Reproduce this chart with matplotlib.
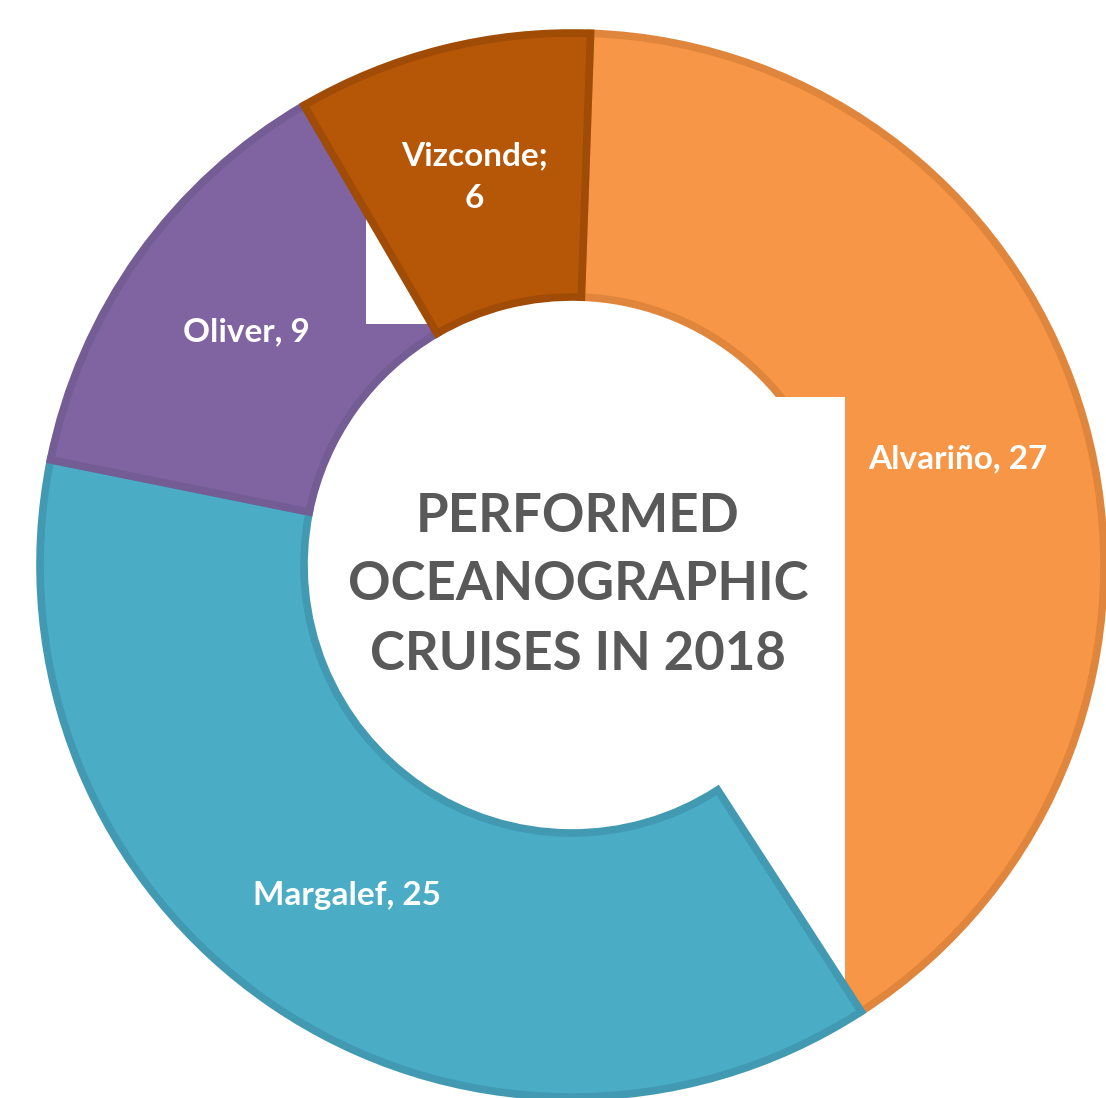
import matplotlib.pyplot as plt
from matplotlib.patches import Rectangle

# cruise counts per vessel
vessels = ['Alvariño', 'Margalef', 'Oliver', 'Vizconde']
cruises = [27, 25, 9, 6]
separators = [', ', ', ', ', ', ';\n']
colors = ['#F79646', '#4BACC6', '#8064A2', '#B65708']
edge_colors = ['#E0863C', '#4199B2', '#745C95', '#A04B06']
title = 'PERFORMED\nOCEANOGRAPHIC\nCRUISES IN 2018'

W, H = 1106, 1098
fig = plt.figure(figsize=(W / 100, H / 100), dpi=100)
ax = fig.add_axes([0, 0, 1, 1])

labels = [f'{n}{s}{v}' for n, s, v in zip(vessels, separators, cruises)]
cx, cy = 572, H - 565
r_out, r_in = 532, 268

wedges, texts = ax.pie(
    cruises, labels=labels, colors=colors, startangle=88, counterclock=False,
    center=(cx, cy), radius=r_out, labeldistance=400 / r_out,
    wedgeprops=dict(width=r_out - r_in, linewidth=5.5, joinstyle='miter'),
    textprops=dict(ha='center', va='center', color='white',
                   fontsize=24, fontweight='bold', family='Lato'),
    frame=True)
ax.set_xlim(0, W)
ax.set_ylim(0, H)
ax.set_aspect('equal')
ax.axis('off')

for w, ec in zip(wedges, edge_colors):
    w.set_edgecolor(ec)
wedges[0].set_zorder(1)
wedges[1].set_zorder(3)
wedges[2].set_zorder(3)
wedges[3].set_zorder(5)
for t in texts:
    t.set_zorder(10)
    t.set_linespacing(1.55)

# white blocks left over on the original picture
ax.add_patch(Rectangle((366, H - 324), 120, 324, color='white', zorder=4, lw=0))
ax.add_patch(Rectangle((59, H - 489), 262, 110, color='white', zorder=2, lw=0))
ax.add_patch(Rectangle((700, H - 1030), 145, 633, color='white', zorder=2, lw=0))

ax.text(578, H - 585, title, ha='center', va='center', fontsize=38,
        fontweight='bold', family='Lato', color='#595959',
        linespacing=1.5, zorder=10)

fig.savefig('out.png', dpi=100, facecolor='white')
